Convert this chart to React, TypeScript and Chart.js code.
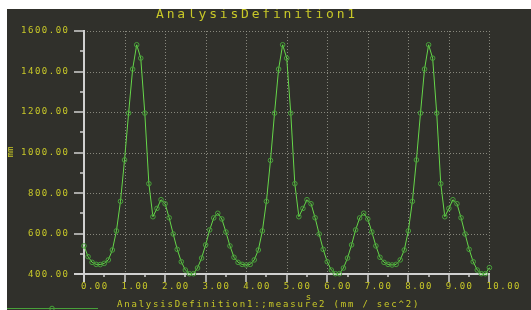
import React, { useEffect, useRef } from 'react';
import { Chart, registerables } from 'chart.js';

Chart.register(...registerables);

// ---------- data ----------
const TIMES = [
  0.0, 0.1, 0.2, 0.3, 0.4, 0.5, 0.6, 0.7, 0.8, 0.9,
  1.0, 1.1, 1.2, 1.3, 1.4, 1.5, 1.6, 1.7, 1.8, 1.9,
  2.0, 2.1, 2.2, 2.3, 2.4, 2.5, 2.6, 2.7, 2.8, 2.9,
  3.0, 3.1, 3.2, 3.3, 3.4, 3.5, 3.6, 3.7, 3.8, 3.9,
  4.0, 4.1, 4.2, 4.3, 4.4, 4.5, 4.6, 4.7, 4.8, 4.9,
  5.0, 5.1, 5.2, 5.3, 5.4, 5.5, 5.6, 5.7, 5.8, 5.9,
  6.0, 6.1, 6.2, 6.3, 6.4, 6.5, 6.6, 6.7, 6.8, 6.9,
  7.0, 7.1, 7.2, 7.3, 7.4, 7.5, 7.6, 7.7, 7.8, 7.9,
  8.0, 8.1, 8.2, 8.3, 8.4, 8.5, 8.6, 8.7, 8.8, 8.9,
  9.0, 9.1, 9.2, 9.3, 9.4, 9.5, 9.6, 9.7, 9.8, 9.9,
  10.0,
];

const MEASURE2 = [
  540, 487, 459, 449, 448, 454, 471, 520, 614, 760,
  964, 1195, 1412, 1532, 1466, 1195, 847, 684, 725, 768,
  748, 679, 599, 523, 462, 421, 403, 403, 431, 480,
  545, 619, 678, 701, 673, 609, 540, 484, 459, 449,
  446, 449, 471, 520, 614, 760, 962, 1195, 1412, 1532,
  1466, 1195, 847, 684, 725, 768, 748, 679, 599, 523,
  462, 421, 403, 403, 431, 480, 545, 619, 678, 701,
  673, 609, 540, 484, 459, 449, 446, 449, 471, 520,
  614, 760, 964, 1195, 1412, 1532, 1466, 1195, 847, 684,
  725, 768, 748, 679, 599, 523, 462, 421, 403, 403,
  433,
];

const X_TICKS = [0, 1, 2, 3, 4, 5, 6, 7, 8, 9, 10];
const X_TICK_LABELS = ['0.00', '1.00', '2.00', '3.00', '4.00', '5.00', '6.00', '7.00', '8.00', '9.00', '10.00'];
const X_MINOR = [0.5, 1.5, 2.5, 3.5, 4.5, 5.5, 6.5, 7.5, 8.5, 9.5];
const Y_TICKS = [400, 600, 800, 1000, 1200, 1400, 1600];
const Y_TICK_LABELS = ['400.00', '600.00', '800.00', '1000.00', '1200.00', '1400.00', '1600.00'];
const Y_MINOR = [500, 700, 900, 1100, 1300, 1500];

const TITLE = 'AnalysisDefinition1';
const X_TITLE = 's';
const Y_TITLE = 'mm';
const SERIES_LABEL = 'AnalysisDefinition1:;measure2 (mm / sec^2)';

// ---------- style ----------
const BG = '#30302b';
const TEXT = '#c8c828';
const GRID = 'rgba(150,150,140,0.85)';
const AXIS = '#d0d0d0';
const LINE = '#66d64a';
const MARK = '#48a03a';
const FONT = "'DejaVu Sans Mono', monospace";

const spacingPlugin = {
  id: 'spacing',
  beforeLayout(chart: any) {
    chart.ctx.letterSpacing = '1.5px';
  },
  beforeDraw(chart: any) {
    chart.ctx.letterSpacing = '1.5px';
  },
};

const framePlugin = {
  id: 'frame',
  beforeDatasetsDraw(chart: any) {
    const { ctx } = chart;
    const xs = chart.scales.x;
    const ys = chart.scales.y;
    const x0 = Math.round(xs.getPixelForValue(X_TICKS[0]));
    const x1 = Math.round(xs.getPixelForValue(X_TICKS[X_TICKS.length - 1]));
    const yTop = Math.round(ys.getPixelForValue(Y_TICKS[Y_TICKS.length - 1]));
    const yBot = Math.round(ys.getPixelForValue(Y_TICKS[0]));

    ctx.save();
    ctx.strokeStyle = GRID;
    ctx.lineWidth = 1;
    ctx.setLineDash([1, 2]);
    X_TICKS.slice(1).forEach((v) => {
      const px = Math.round(xs.getPixelForValue(v)) + 0.5;
      ctx.beginPath();
      ctx.moveTo(px, yTop);
      ctx.lineTo(px, yBot);
      ctx.stroke();
    });
    Y_TICKS.slice(1).forEach((v) => {
      const py = Math.round(ys.getPixelForValue(v)) + 0.5;
      ctx.beginPath();
      ctx.moveTo(x0, py);
      ctx.lineTo(x1, py);
      ctx.stroke();
    });
    ctx.restore();

    ctx.save();
    ctx.strokeStyle = AXIS;
    ctx.lineWidth = 2;
    ctx.beginPath();
    ctx.moveTo(x0, yTop - 1);
    ctx.lineTo(x0, yBot + 8);
    ctx.moveTo(x0 - 10, yBot);
    ctx.lineTo(x1 + 1, yBot);
    ctx.stroke();
    ctx.lineWidth = 1.5;
    ctx.beginPath();
    Y_TICKS.forEach((v) => {
      const py = Math.round(ys.getPixelForValue(v));
      ctx.moveTo(x0 - 10, py);
      ctx.lineTo(x0, py);
    });
    Y_MINOR.forEach((v) => {
      const py = Math.round(ys.getPixelForValue(v));
      ctx.moveTo(x0 - 4, py);
      ctx.lineTo(x0, py);
    });
    X_TICKS.forEach((v) => {
      const px = Math.round(xs.getPixelForValue(v));
      ctx.moveTo(px, yBot);
      ctx.lineTo(px, yBot + 8);
    });
    X_MINOR.forEach((v) => {
      const px = Math.round(xs.getPixelForValue(v));
      ctx.moveTo(px, yBot);
      ctx.lineTo(px, yBot + 3);
    });
    ctx.stroke();
    ctx.restore();
  },
};

const textPlugin = {
  id: 'texts',
  afterDraw(chart: any) {
    const { ctx } = chart;
    ctx.save();
    ctx.fillStyle = TEXT;
    ctx.textBaseline = 'middle';

    // title
    ctx.letterSpacing = '2.8px';
    ctx.font = `13px ${FONT}`;
    ctx.textAlign = 'left';
    ctx.fillText(TITLE, 149, 6);

    // x title
    ctx.letterSpacing = '1px';
    ctx.font = `9px ${FONT}`;
    ctx.textAlign = 'center';
    ctx.fillText(X_TITLE, 302, 289);

    // y title
    ctx.save();
    ctx.translate(4, 143);
    ctx.rotate(-Math.PI / 2);
    ctx.letterSpacing = '0px';
    ctx.fillText(Y_TITLE, 0, 0);
    ctx.restore();

    // legend
    ctx.strokeStyle = MARK;
    ctx.lineWidth = 1;
    ctx.beginPath();
    ctx.moveTo(0, 299.5);
    ctx.lineTo(91, 299.5);
    ctx.stroke();
    ctx.beginPath();
    ctx.arc(45, 299.5, 2.3, 0, Math.PI * 2);
    ctx.stroke();

    ctx.letterSpacing = '1.8px';
    ctx.font = `9px ${FONT}`;
    ctx.textAlign = 'left';
    ctx.fillText(SERIES_LABEL, 110, 295.5);
    ctx.restore();
  },
};

export default function App() {
  const ref = useRef<HTMLCanvasElement>(null);

  useEffect(() => {
    const canvas = ref.current;
    if (!canvas) return;
    const chart = new Chart(canvas, {
      type: 'line',
      data: {
        datasets: [
          {
            label: SERIES_LABEL,
            data: TIMES.map((t, i) => ({ x: t, y: MEASURE2[i] })),
            borderColor: LINE,
            borderWidth: 1,
            pointRadius: 2.3,
            pointBorderWidth: 1,
            pointBorderColor: MARK,
            pointBackgroundColor: 'rgba(0,0,0,0)',
            tension: 0,
            clip: 6,
          } as any,
        ],
      },
      options: {
        responsive: false,
        animation: false,
        events: [],
        layout: { padding: { top: 22, right: 39, bottom: 0, left: 0 } },
        plugins: {
          legend: { display: false },
          title: { display: false },
          tooltip: { enabled: false },
        },
        scales: {
          x: {
            type: 'linear',
            min: 0,
            max: 10,
            grid: { display: false, drawTicks: false },
            border: { display: false },
            afterBuildTicks: (s: any) => {
              s.ticks = X_TICKS.map((v) => ({ value: v }));
            },
            afterFit: (s: any) => {
              s.height = 35.7;
            },
            ticks: {
              color: TEXT,
              font: { family: FONT, size: 9 },
              align: 'start',
              labelOffset: -3,
              padding: 7,
              maxRotation: 0,
              autoSkip: false,
              callback: (_v: any, i: number) => X_TICK_LABELS[i],
            },
          },
          y: {
            type: 'linear',
            min: 400,
            max: 1600,
            grid: { display: false, drawTicks: false },
            border: { display: false },
            afterBuildTicks: (s: any) => {
              s.ticks = Y_TICKS.map((v) => ({ value: v }));
            },
            afterFit: (s: any) => {
              s.width = 77;
            },
            ticks: {
              color: TEXT,
              font: { family: FONT, size: 9 },
              padding: 14.5,
              autoSkip: false,
              callback: (_v: any, i: number) => Y_TICK_LABELS[i],
            },
          },
        },
      } as any,
      plugins: [spacingPlugin, framePlugin, textPlugin],
    });
    return () => chart.destroy();
  }, []);

  return (
    <div style={{ position: 'fixed', left: 7, top: 9, width: 524, height: 301, background: BG }}>
      <canvas ref={ref} width={524} height={301} style={{ display: 'block' }} />
    </div>
  );
}
